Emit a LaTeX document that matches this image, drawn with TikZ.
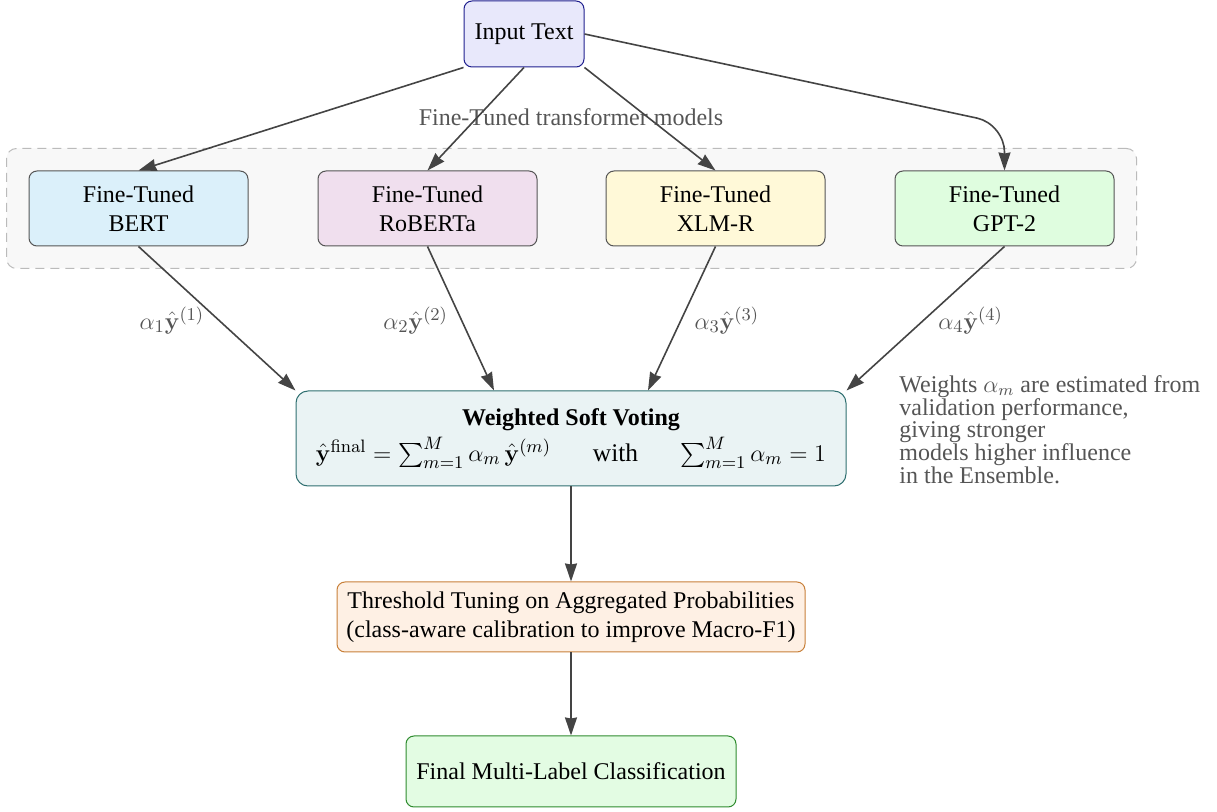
\documentclass[tikz,border=0pt]{standalone}
\usepackage[no-math]{fontspec}
\setmainfont{Liberation Serif}
\usepackage{amsmath}
\usetikzlibrary{arrows.meta,fit,backgrounds}
\definecolor{inFill}{HTML}{E8E8FB}
\definecolor{inDraw}{HTML}{1F1F8F}
\definecolor{bertFill}{HTML}{DBF0FA}
\definecolor{robFill}{HTML}{F0DFEE}
\definecolor{xlmFill}{HTML}{FFF9D8}
\definecolor{gptFill}{HTML}{DFFDDF}
\definecolor{modDraw}{HTML}{555555}
\definecolor{grpFill}{HTML}{F8F8F8}
\definecolor{grpDraw}{HTML}{BBBBBB}
\definecolor{voteFill}{HTML}{EAF3F4}
\definecolor{voteDraw}{HTML}{2F6F70}
\definecolor{thrFill}{HTML}{FEF0E4}
\definecolor{thrDraw}{HTML}{C8803A}
\definecolor{finFill}{HTML}{E3FCE3}
\definecolor{finDraw}{HTML}{2E8B2E}
\definecolor{arrC}{HTML}{444444}
\definecolor{txtGray}{HTML}{555555}
\begin{document}
\begin{tikzpicture}[x=0.5pt,y=-0.5pt,
  every node/.style={font=\fontsize{12}{14.4}\selectfont},
  box/.style={draw, rounded corners=4pt, align=center, line width=0.5pt, inner sep=0pt},
  inbox/.style={box, fill=inFill, draw=inDraw, minimum width=60pt, minimum height=33pt},
  model/.style={box, draw=modDraw, minimum width=109.5pt, minimum height=37.5pt},
  grp/.style={draw=grpDraw, fill=grpFill, dash pattern=on 4.5pt off 3pt, rounded corners=5pt, inner sep=11pt, line width=0.5pt},
  grplabel/.style={text=txtGray, inner sep=0pt},
  vote/.style={box, fill=voteFill, draw=voteDraw, rounded corners=6pt, minimum width=275pt, minimum height=47.5pt},
  thr/.style={box, fill=thrFill, draw=thrDraw, minimum width=234pt, minimum height=35pt},
  fin/.style={box, fill=finFill, draw=finDraw, minimum width=165pt, minimum height=35.5pt},
  note/.style={text=txtGray, align=left, inner sep=0pt, font=\fontsize{12}{11.4}\selectfont},
  lab/.style={text=txtGray, inner sep=0pt, font=\fontsize{13}{15}\selectfont},
  arr/.style={draw=arrC, line width=0.8pt, -{Stealth[length=9pt,width=6pt,inset=0.5pt]}, fill=none}
]
\useasboundingbox (0,0) rectangle (1217,812);

% nodes
\node[inbox] (inp) at (524,34) {Input Text};
\node[model, fill=bertFill] (bert) at (138.5,208.5) {Fine-Tuned\\BERT};
\node[model, fill=robFill]  (rob)  at (427.5,208.5) {Fine-Tuned\\RoBERTa};
\node[model, fill=xlmFill]  (xlm)  at (715.5,208.5) {Fine-Tuned\\XLM-R};
\node[model, fill=gptFill]  (gpt)  at (1004.5,208.5) {Fine-Tuned\\GPT-2};
\begin{scope}[on background layer]
  \node[grp, fit=(bert)(gpt)] (grp) {};
\end{scope}
\node[grplabel, anchor=base] (glab) at (571,126) {Fine-Tuned transformer models};

\node[vote] (vote) at (571,438.5) {\textbf{Weighted Soft Voting}\\[2pt]
  {\fontsize{12.7}{14}\selectfont$\hat{\mathbf{y}}^{\mathrm{final}} = \sum_{m=1}^{M} \alpha_m\, \hat{\mathbf{y}}^{(m)}$\hspace{21pt}with\hspace{21pt}$\sum_{m=1}^{M}\alpha_m = 1$}};
\node[thr] (thr) at (571,617) {Threshold Tuning on Aggregated Probabilities\\(class-aware calibration to improve Macro-F1)};
\node[fin] (fin) at (571,771.5) {Final Multi-Label Classification};

\node[note, anchor=north west] (note) at (899,375) {Weights $\alpha_m$ are estimated from\\validation performance,\\giving stronger\\models higher influence\\in the Ensemble.};

% helper coordinates
\coordinate (gbend) at (1004.5,124);
\coordinate (vin2) at ([xshift=-38.5pt]vote.north);
\coordinate (vin3) at ([xshift=38.5pt]vote.north);

% connectors
\draw[arr] (inp.south west) -- (bert.north);
\draw[arr] (inp.south) -- (rob.north);
\draw[arr] (inp.south east) -- (xlm.north);
\draw[arr, rounded corners=14pt] (inp.east) -- (gbend) -- (gpt.north);

\draw[arr] (bert.south) -- node[lab, left=6pt, yshift=-1pt] {$\alpha_1\hat{\mathbf{y}}^{(1)}$} (vote.north west);
\draw[arr] (rob.south) -- node[lab, left=6pt, yshift=-1pt] {$\alpha_2\hat{\mathbf{y}}^{(2)}$} (vin2);
\draw[arr] (xlm.south) -- node[lab, right=6pt, yshift=-1pt] {$\alpha_3\hat{\mathbf{y}}^{(3)}$} (vin3);
\draw[arr] (gpt.south) -- node[lab, right=6pt, yshift=-1pt] {$\alpha_4\hat{\mathbf{y}}^{(4)}$} (vote.north east);

\draw[arr] (vote.south) -- (thr.north);
\draw[arr] (thr.south) -- (fin.north);
\end{tikzpicture}
\end{document}
